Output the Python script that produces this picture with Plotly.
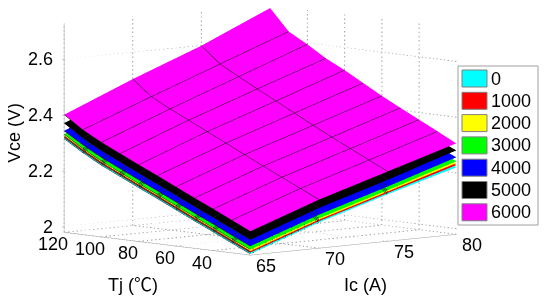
import plotly.graph_objects as go
import numpy as np

# rows: Ic, columns: Tj
ic = [65, 70, 75, 80]
tj = [20, 30, 40, 50, 60, 70, 80, 90, 100, 110, 120]

vce_0 = [
    [1.984, 2.015, 2.047, 2.078, 2.110, 2.142, 2.173, 2.205, 2.237, 2.274, 2.316],
    [2.072, 2.104, 2.136, 2.168, 2.201, 2.234, 2.267, 2.300, 2.332, 2.368, 2.423],
    [2.148, 2.181, 2.214, 2.247, 2.281, 2.317, 2.352, 2.387, 2.423, 2.460, 2.518],
    [2.220, 2.259, 2.293, 2.327, 2.362, 2.400, 2.438, 2.472, 2.514, 2.552, 2.628],
]
vce_1000 = [
    [1.989, 2.020, 2.052, 2.083, 2.115, 2.147, 2.178, 2.210, 2.242, 2.279, 2.321],
    [2.077, 2.109, 2.141, 2.173, 2.206, 2.239, 2.272, 2.305, 2.337, 2.373, 2.428],
    [2.153, 2.186, 2.219, 2.252, 2.286, 2.322, 2.357, 2.392, 2.428, 2.465, 2.523],
    [2.228, 2.264, 2.298, 2.332, 2.367, 2.405, 2.443, 2.477, 2.519, 2.557, 2.633],
]
vce_2000 = [
    [1.994, 2.025, 2.057, 2.088, 2.120, 2.152, 2.183, 2.215, 2.247, 2.284, 2.326],
    [2.082, 2.114, 2.146, 2.178, 2.211, 2.244, 2.277, 2.310, 2.342, 2.378, 2.433],
    [2.158, 2.191, 2.224, 2.257, 2.291, 2.327, 2.362, 2.397, 2.433, 2.470, 2.528],
    [2.235, 2.269, 2.303, 2.337, 2.372, 2.410, 2.448, 2.482, 2.524, 2.562, 2.638],
]
vce_3000 = [
    [2.000, 2.030, 2.062, 2.093, 2.125, 2.157, 2.188, 2.220, 2.252, 2.289, 2.332],
    [2.087, 2.119, 2.151, 2.183, 2.216, 2.249, 2.282, 2.315, 2.347, 2.383, 2.438],
    [2.163, 2.196, 2.229, 2.262, 2.296, 2.332, 2.367, 2.402, 2.438, 2.475, 2.533],
    [2.242, 2.274, 2.308, 2.342, 2.377, 2.415, 2.453, 2.487, 2.529, 2.567, 2.643],
]
vce_4000 = [
    [2.012, 2.043, 2.075, 2.106, 2.138, 2.170, 2.201, 2.233, 2.265, 2.302, 2.344],
    [2.100, 2.132, 2.164, 2.196, 2.229, 2.262, 2.295, 2.328, 2.360, 2.396, 2.451],
    [2.176, 2.209, 2.242, 2.275, 2.309, 2.345, 2.380, 2.415, 2.451, 2.488, 2.546],
    [2.256, 2.287, 2.321, 2.355, 2.390, 2.428, 2.466, 2.500, 2.542, 2.580, 2.656],
]
vce_5000 = [
    [2.035, 2.067, 2.099, 2.130, 2.162, 2.194, 2.225, 2.257, 2.289, 2.326, 2.372],
    [2.124, 2.156, 2.188, 2.220, 2.253, 2.286, 2.319, 2.352, 2.384, 2.420, 2.475],
    [2.200, 2.233, 2.266, 2.299, 2.333, 2.369, 2.404, 2.439, 2.475, 2.512, 2.570],
    [2.281, 2.311, 2.345, 2.379, 2.414, 2.452, 2.490, 2.524, 2.566, 2.604, 2.680],
]
vce_6000 = [
    [2.065, 2.097, 2.129, 2.160, 2.192, 2.224, 2.255, 2.287, 2.319, 2.356, 2.402],
    [2.154, 2.186, 2.218, 2.250, 2.283, 2.316, 2.349, 2.382, 2.414, 2.450, 2.505],
    [2.230, 2.263, 2.296, 2.329, 2.363, 2.399, 2.434, 2.469, 2.505, 2.542, 2.600],
    [2.306, 2.341, 2.375, 2.409, 2.444, 2.482, 2.520, 2.554, 2.596, 2.634, 2.710],
]

names = ['0', '1000', '2000', '3000', '4000', '5000', '6000']
series = [vce_0, vce_1000, vce_2000, vce_3000, vce_4000, vce_5000, vce_6000]
colors = ['#00ffff', '#ff0000', '#ffff00', '#00ff00', '#0000ff', '#000000', '#ff00ff']

ic_ticks = [65, 70, 75, 80]
tj_ticks = [40, 60, 80, 100, 120]
vce_ticks = [2, 2.2, 2.4, 2.6]
ic_range = [65, 80]
tj_range = [20, 120]
vce_range = [1.98, 2.73]

FONT = 'Liberation Sans, Arial, Noto Sans CJK SC'
GRID = '#a0a0a0'
# the page body has an 8px margin, so the figure is 8px smaller than the window
W, H, PAGE = 542, 293, 8
ZOOM = 1.9
VIEW = np.array([-0.668, -0.735, 0.111])
CENTER = np.array([0.0816, -0.1006, -0.1747])
EYE = VIEW * 3 + CENTER


def px(x):
    return (x - PAGE) / W


def py(y):
    return 1 - (y - PAGE) / H


fig = go.Figure()


def grid_line(xs, ys, zs):
    fig.add_trace(go.Scatter3d(x=xs, y=ys, z=zs, mode='lines', showlegend=False, hoverinfo='skip',
                               line=dict(color=GRID, width=2, dash='dash')))


# dashed grid on the floor and on the two back walls
for v in ic_ticks:
    grid_line([v, v], tj_range, [vce_range[0]] * 2)
    grid_line([v, v], [tj_range[1]] * 2, vce_range)
for v in tj_ticks:
    grid_line(ic_range, [v, v], [vce_range[0]] * 2)
    grid_line([ic_range[1]] * 2, [v, v], vce_range)
for v in vce_ticks:
    grid_line(ic_range, [tj_range[1]] * 2, [v, v])
    grid_line([ic_range[1]] * 2, tj_range, [v, v])

for name, z, color in zip(names, series, colors):
    fig.add_trace(go.Surface(
        x=ic, y=tj, z=np.array(z).T, name=name,
        colorscale=[[0, color], [1, color]], showscale=False,
        lighting=dict(ambient=1, diffuse=0, specular=0, roughness=1, fresnel=0),
        contours=dict(
            x=dict(show=True, color='#202020', width=1, start=65, end=80, size=5),
            y=dict(show=True, color='#202020', width=1, start=20, end=120, size=10),
        ),
        hoverinfo='skip',
    ))

axis_style = dict(
    showbackground=False, showgrid=False, zeroline=False, showspikes=False,
    showline=True, linecolor=GRID, linewidth=1,
    ticks='outside', ticklen=3, tickcolor=GRID,
    showticklabels=False,
    title=dict(text=''),
)

# legend drawn by hand, MATLAB style
shapes = [dict(type='rect', xref='paper', yref='paper', x0=px(458), x1=px(538),
               y0=py(225), y1=py(66), line=dict(color='#a0a0a0', width=1),
               fillcolor='white')]
annotations = []
for i, (name, color) in enumerate(zip(names, colors)):
    top = 70 + i * 22.3
    shapes.append(dict(type='rect', xref='paper', yref='paper', x0=px(462), x1=px(487),
                       y0=py(top + 17), y1=py(top),
                       line=dict(color='#808080', width=1), fillcolor=color))
    annotations.append(dict(text=name, xref='paper', yref='paper', x=px(489),
                            y=py(top + 8.5), xanchor='left', yanchor='middle',
                            showarrow=False, font=dict(family=FONT, size=18, color='black')))

# axis titles sit where MATLAB put them
for text, x, y, angle in [('Ic (A)', 365, 285, 0), ('Tj (℃)', 133, 285, 0), ('Vce (V)', 14, 133, -90)]:
    annotations.append(dict(text=text, xref='paper', yref='paper', x=px(x), y=py(y),
                            xanchor='center', yanchor='middle', showarrow=False, textangle=angle,
                            font=dict(family=FONT, size=18, color='black')))


# tick labels go straight below the box edges, which plotly's own labels cannot do
def tick_label(text, x, y, z, xshift, yshift, anchor):
    return dict(text=text, x=x, y=y, z=z, xshift=xshift, yshift=yshift, xanchor=anchor,
                yanchor='middle', showarrow=False, font=dict(family=FONT, size=18, color='black'))


tick_labels = []
for v in ic_ticks:
    tick_labels.append(tick_label(str(v), v, tj_range[0], vce_range[0], 16, -11, 'center'))
for v in tj_ticks:
    tick_labels.append(tick_label(str(v), ic_range[0], v, vce_range[0], -11, -12, 'center'))
for v in vce_ticks:
    tick_labels.append(tick_label(str(v), ic_range[0], tj_range[1], v, -9, 0, 'right'))

fig.update_layout(
    width=W, height=H, margin=dict(l=0, r=0, t=0, b=0),
    paper_bgcolor='white', showlegend=False,
    shapes=shapes, annotations=annotations,
    scene=dict(
        domain=dict(x=[0, 1], y=[0, 1]),
        aspectmode='manual', aspectratio=dict(x=ZOOM, y=0.995 * ZOOM, z=0.756 * ZOOM),
        camera=dict(projection=dict(type='orthographic'), up=dict(x=0, y=0, z=1),
                    center=dict(x=CENTER[0], y=CENTER[1], z=CENTER[2]),
                    eye=dict(x=EYE[0], y=EYE[1], z=EYE[2])),
        xaxis=dict(axis_style, range=ic_range, tickvals=ic_ticks),
        yaxis=dict(axis_style, range=tj_range, tickvals=tj_ticks),
        zaxis=dict(axis_style, range=vce_range, tickvals=vce_ticks),
        annotations=tick_labels,
    ),
)

fig.write_html("out.html")
